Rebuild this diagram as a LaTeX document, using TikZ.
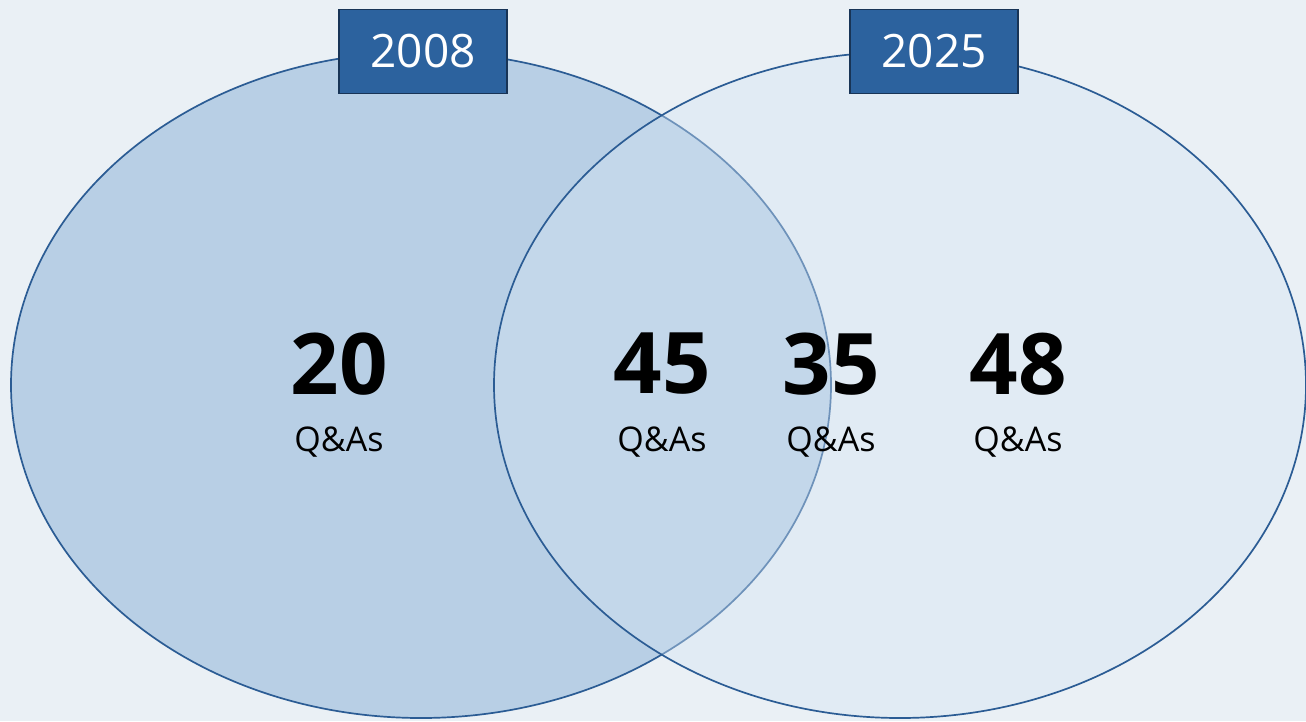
\documentclass[tikz,border=0pt]{standalone}
\usepackage{fontspec}
\setmainfont{Open Sans}
\usetikzlibrary{shapes.geometric,positioning}
\definecolor{bgpale}{RGB}{234,240,245}
\definecolor{setedge}{RGB}{43,92,148}
\definecolor{setleft}{RGB}{184,207,229}
\definecolor{setright}{RGB}{212,228,243}
\definecolor{yearfill}{RGB}{44,98,158}
\definecolor{yearedge}{RGB}{24,52,86}

\begin{document}
\begin{tikzpicture}[x=1pt,y=-1pt,
  set/.style={ellipse, draw=setedge, line width=1.7pt, inner sep=0pt,
    minimum width=820pt, minimum height=666pt},
  year/.style={draw=yearedge, fill=yearfill, line width=1.2pt, text=white,
    minimum width=168pt, minimum height=84pt, inner sep=0pt,
    font=\fontsize{46}{46}\selectfont},
  count/.style={font=\fontsize{85}{85}\selectfont\bfseries},
  unit/.style={font=\fontsize{34}{34}\selectfont}]
  \useasboundingbox[fill=bgpale] (0,0) rectangle (1306,721);

  \node[set, fill=setleft] (set2008) at (421,385) {};
  \node[set, fill=setright, fill opacity=0.4, minimum width=812pt] (set2025) at (900,385) {};

  \node[year] (year2008) at ([xshift=2pt]set2008.north) {2008};
  \node[year] (year2025) at ([xshift=34pt]set2025.north) {2025};

  \node[count] (n20) at (339,364) {20};
  \node[count] (n45) at (662,364) {45};
  \node[count] (n35) at (831,364) {35};
  \node[count] (n48) at (1018,364) {48};

  \node[unit] (u20) at (339,442) {Q\&As};
  \node[unit] (u45) at (662,442) {Q\&As};
  \node[unit] (u35) at (831,442) {Q\&As};
  \node[unit] (u48) at (1018,442) {Q\&As};
\end{tikzpicture}
\end{document}
